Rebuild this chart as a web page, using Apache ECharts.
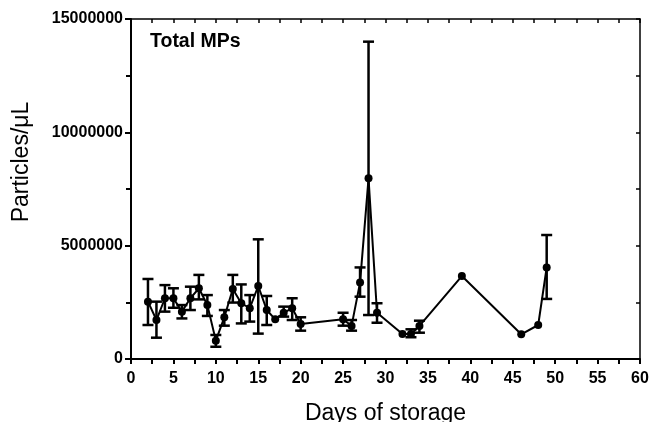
<!DOCTYPE html>
<html>
<head>
<meta charset="utf-8">
<script src="https://cdn.jsdelivr.net/npm/echarts@6/dist/echarts.min.js"></script>
<style>
html,body{margin:0;padding:0;background:#fff;}
#c{width:654px;height:422px;}
</style>
</head>
<body>
<div id="c"></div>
<script>
const days  = [2, 3, 4, 5, 6, 7, 8, 9, 10, 11, 12, 13, 14, 15, 16, 17, 18, 19, 20, 25, 26, 27, 28, 29, 32, 33, 34, 39, 46, 48, 49];
const means = [2530000, 1720000, 2680000, 2680000, 2090000, 2680000, 3120000, 2380000, 810000, 1840000, 3090000, 2460000, 2240000, 3220000, 2160000, 1750000, 2040000, 2240000, 1540000, 1750000, 1460000, 3370000, 7970000, 2040000, 1100000, 1100000, 1460000, 3660000, 1090000, 1500000, 4040000];
const upper = [3530000, 2530000, 3260000, 3120000, 2380000, 3190000, 3710000, 2820000, 1060000, 2160000, 3710000, 3290000, 2820000, 5280000, 2780000, null, 2310000, 2680000, 1840000, 2040000, 1720000, 4040000, 14000000, 2460000, null, 1310000, 1690000, null, null, null, 5470000];
const lower = [1500000, 940000, 2090000, 2260000, 1790000, 2160000, 2630000, 1900000, 540000, 1470000, 2490000, 1570000, 1650000, 1120000, 1500000, null, 1870000, 1720000, 1250000, 1470000, 1250000, 2750000, 1940000, 1600000, null, 960000, 1160000, null, null, null, 2650000];
const xTicks = {min: 0, max: 60, interval: 5};
const yTicks = {min: 0, max: 15000000, interval: 5000000};

const FONT = 'Liberation Sans, Arial, Helvetica, sans-serif';
const lineData = days.map((d, i) => [d, means[i]]);
const errData = [];
days.forEach((d, i) => { if (upper[i] != null) errData.push([d, lower[i], upper[i]]); });

const chart = echarts.init(document.getElementById('c'));
chart.setOption({
  animation: false,
  backgroundColor: '#fff',
  title: {
    text: 'Total MPs', left: 145, top: 27,
    textStyle: {fontFamily: FONT, fontSize: 19.5, fontWeight: 'bold', color: '#000'}
  },
  grid: {left: 131, right: 14, top: 19, bottom: 63, containLabel: false, outerBoundsMode: 'none'},
  graphic: [{
    type: 'text', x: 22, y: 162, rotation: Math.PI / 2,
    style: {text: 'Particles/\u03bcL', fontFamily: FONT, fontSize: 23, fill: '#000', align: 'center', verticalAlign: 'middle'}
  }],
  xAxis: [{
    type: 'value', position: 'bottom', min: xTicks.min, max: xTicks.max, interval: xTicks.interval,
    name: 'Days of storage', nameLocation: 'middle', nameGap: 43,
    nameTextStyle: {fontFamily: FONT, fontSize: 23, color: '#000'},
    axisLine: {show: true, onZero: false, lineStyle: {color: '#000', width: 2}},
    axisTick: {show: true, length: 5, lineStyle: {color: '#000', width: 2}},
    minorTick: {show: true, splitNumber: 2, length: 5, lineStyle: {color: '#000', width: 2}},
    splitLine: {show: false}, minorSplitLine: {show: false},
    axisLabel: {margin: 12, fontFamily: FONT, fontSize: 16, fontWeight: 'bold', color: '#000'}
  }, {
    type: 'value', position: 'top', min: xTicks.min, max: xTicks.max, interval: xTicks.interval / 2,
    axisLine: {show: true, onZero: false, lineStyle: {color: '#000', width: 1.5}},
    axisTick: {show: true, inside: true, length: 4, lineStyle: {color: '#000', width: 1.5}},
    splitLine: {show: false}, axisLabel: {show: false}
  }],
  yAxis: [{
    type: 'value', position: 'left', min: yTicks.min, max: yTicks.max, interval: yTicks.interval,
    axisLine: {show: true, onZero: false, lineStyle: {color: '#000', width: 2}},
    axisTick: {show: true, length: 6, lineStyle: {color: '#000', width: 2}},
    minorTick: {show: true, splitNumber: 2, length: 5, lineStyle: {color: '#000', width: 2}},
    splitLine: {show: false}, minorSplitLine: {show: false},
    axisLabel: {margin: 8, fontFamily: FONT, fontSize: 16, fontWeight: 'bold', color: '#000', formatter: v => String(v)}
  }, {
    type: 'value', position: 'right', min: yTicks.min, max: yTicks.max, interval: yTicks.interval / 2,
    axisLine: {show: true, onZero: false, lineStyle: {color: '#000', width: 1.5}},
    axisTick: {show: true, inside: true, length: 4, lineStyle: {color: '#000', width: 1.5}},
    splitLine: {show: false}, axisLabel: {show: false}
  }],
  series: [{
    type: 'line', data: lineData, xAxisIndex: 0, yAxisIndex: 0,
    symbol: 'circle', symbolSize: 8, showSymbol: true,
    lineStyle: {color: '#000', width: 2}, itemStyle: {color: '#000'}, z: 3
  }, {
    type: 'custom', data: errData, xAxisIndex: 0, yAxisIndex: 0, z: 4,
    renderItem: function (params, api) {
      const x = api.value(0);
      const lo = api.coord([x, api.value(1)]);
      const hi = api.coord([x, api.value(2)]);
      const w = 5.5;
      const st = {stroke: '#000', lineWidth: 2.5};
      return {type: 'group', children: [
        {type: 'line', shape: {x1: lo[0], y1: lo[1], x2: hi[0], y2: hi[1]}, style: st},
        {type: 'line', shape: {x1: lo[0] - w, y1: lo[1], x2: lo[0] + w, y2: lo[1]}, style: st},
        {type: 'line', shape: {x1: hi[0] - w, y1: hi[1], x2: hi[0] + w, y2: hi[1]}, style: st}
      ]};
    }
  }]
});
</script>
</body>
</html>
